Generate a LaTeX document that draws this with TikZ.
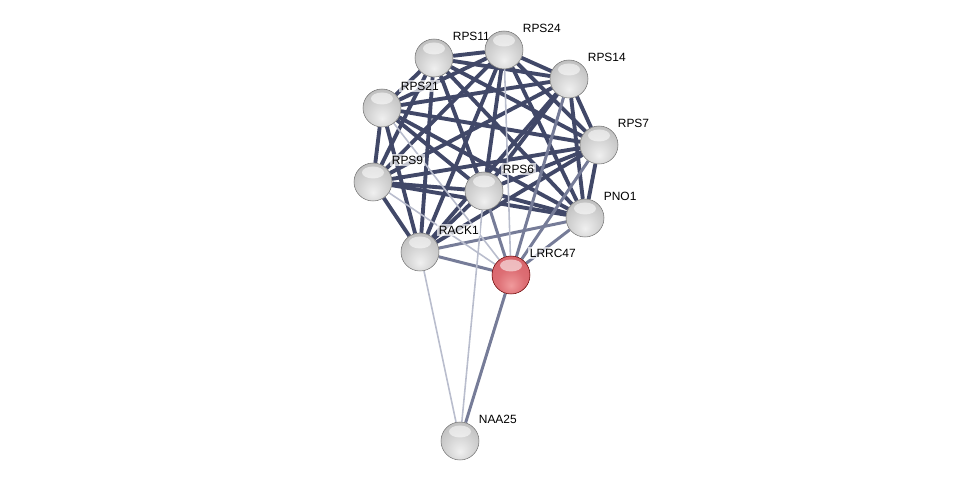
\documentclass[tikz,border=0pt]{standalone}
\usepackage{fontspec}
\setmainfont{Liberation Sans}
\usepackage{xcolor}
\usetikzlibrary{backgrounds}

\definecolor{edgedark}{HTML}{414868}
\definecolor{edgemid}{HTML}{767C98}
\definecolor{edgelight}{HTML}{B9BDCD}
\definecolor{redlow}{HTML}{F09A9C}
\definecolor{redbody}{HTML}{D8636A}
\definecolor{redrim}{HTML}{A83840}

\pgfdeclareradialshading{greysphere}{\pgfpoint{0bp}{-14bp}}{color(0bp)=(white!94!black); color(18bp)=(white!83!black); color(34bp)=(white!74!black); color(50bp)=(white!60!black); color(70bp)=(white!52!black)}
\pgfdeclareradialshading{redsphere}{\pgfpoint{0bp}{-14bp}}{color(0bp)=(redlow); color(18bp)=(redbody!80!redlow); color(34bp)=(redbody); color(50bp)=(redrim); color(70bp)=(redrim!80!black)}

\tikzset{
    protein/.style={circle, minimum size=0.76cm, inner sep=0pt, shading=greysphere, draw=white!45!black, line width=0.3pt,
        path picture={\fill[white, opacity=0.55] ([yshift=0.19cm]path picture bounding box.center) ellipse (0.22cm and 0.12cm);}},
    query/.style={protein, shading=redsphere, draw=red!40!black},
    lbl/.style={xshift=-0.05cm, yshift=0.44cm, inner sep=1pt, fill=white, fill opacity=0.7, text opacity=1, font=\fontsize{6.8}{8}\selectfont},
    strong/.style={draw=edgedark, line width=2.2pt},
    medium/.style={draw=edgemid, line width=1.7pt},
    weak/.style={draw=edgelight, line width=0.9pt}
}

\begin{document}
\begin{tikzpicture}
    \useasboundingbox (0,0) rectangle (19.52,-9.74);

    \node[protein] (s11) at (8.68,-1.16) [label={[lbl]east:RPS11}] {};
    \node[protein] (s24) at (10.08,-1.00) [label={[lbl]east:RPS24}] {};
    \node[protein] (s14) at (11.38,-1.58) [label={[lbl]east:RPS14}] {};
    \node[protein] (s21) at (7.64,-2.16) [label={[lbl]east:RPS21}] {};
    \node[protein] (s7) at (11.98,-2.90) [label={[lbl]east:RPS7}] {};
    \node[protein] (s9) at (7.46,-3.64) [label={[lbl]east:RPS9}] {};
    \node[protein] (s6) at (9.68,-3.82) [label={[lbl]east:RPS6}] {};
    \node[protein] (pno) at (11.70,-4.36) [label={[lbl]east:PNO1}] {};
    \node[protein] (rack) at (8.40,-5.04) [label={[lbl]east:RACK1}] {};
    \node[query] (lrrc) at (10.22,-5.50) [label={[lbl]east:LRRC47}] {};
    \node[protein] (naa) at (9.20,-8.82) [label={[lbl]east:NAA25}] {};

    % edges go behind the spheres
    \begin{scope}[on background layer]
        \foreach \a/\b in {s11/s24, s11/s14, s11/s21, s11/s7, s11/s9, s11/s6, s11/pno, s11/rack,
                           s24/s14, s24/s21, s24/s7, s24/s9, s24/s6, s24/pno, s24/rack,
                           s14/s21, s14/s7, s14/s9, s14/s6, s14/pno, s14/rack,
                           s21/s7, s21/s9, s21/s6, s21/pno, s21/rack,
                           s7/s9, s7/s6, s7/pno, s7/rack,
                           s9/s6, s9/pno, s9/rack,
                           s6/pno, s6/rack}
            \draw[strong] (\a) -- (\b);
        \foreach \a/\b in {rack/pno, lrrc/rack, lrrc/s6, lrrc/pno, lrrc/naa, lrrc/s14, lrrc/s7}
            \draw[medium] (\a) -- (\b);
        \foreach \a/\b in {lrrc/s9, lrrc/s24, lrrc/s21, naa/rack, naa/s6}
            \draw[weak] (\a) -- (\b);
    \end{scope}
\end{tikzpicture}
\end{document}
